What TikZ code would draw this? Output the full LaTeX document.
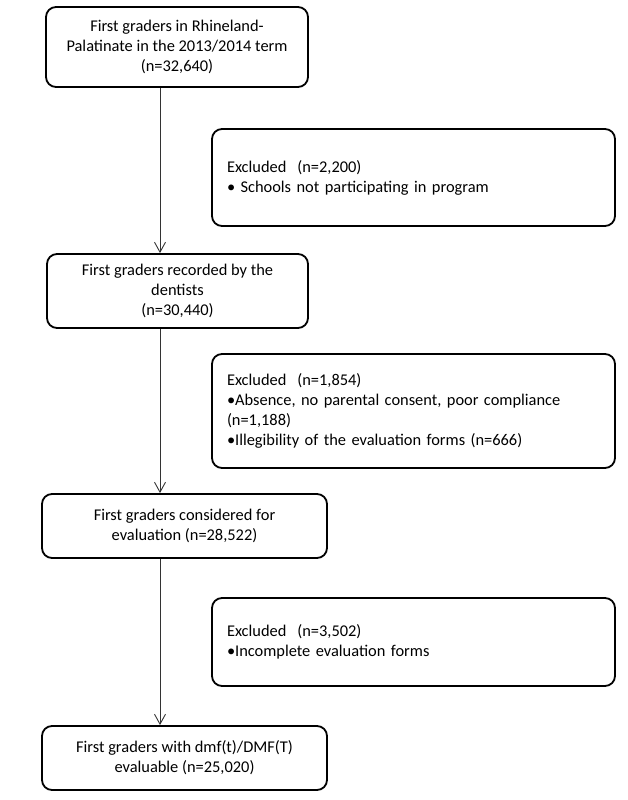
\documentclass[tikz,border=0pt]{standalone}
\usepackage{fontspec}
\setmainfont{Carlito}
\usepackage{tikz}
\usetikzlibrary{arrows.meta}
\usetikzlibrary{positioning}
\tikzset{%
  stage/.style={
    draw,
    rectangle,
    rounded corners=10pt,
    line width=1.8pt,
    align=center,
    inner sep=0pt,
    font=\fontsize{16.4}{20}\selectfont
  },
  excl/.style={
    stage,
    align=left,
    text width=373pt,
    minimum width=403pt,
    execute at begin node=\hspace*{0pt}
  },
  flow/.style={
    draw=black!80,
    line width=0.9pt,
    -{Straight Barb[length=10pt,width=11pt,line width=0.9pt]}
  },
}

\begin{document}
\begin{tikzpicture}[x=1pt,y=-1pt]
    \useasboundingbox (0,0) rectangle (628,800);
    \coordinate (spine) at (160,0);

    \node (a) [xshift=177pt,yshift=-47pt,stage,minimum width=262pt,minimum height=80pt]
    {First graders in Rhineland-\\Palatinate in the 2013/2014 term\\(n=32,640)};
    \node (e1) [xshift=413.5pt,yshift=-177.5pt,excl,minimum height=97pt]
    {Excluded\ \ (n=2,200)\\\textbullet\ Schools not participating in program};
    \node (b) [xshift=177.5pt,yshift=-291pt,stage,minimum width=261pt,minimum height=74pt]
    {First graders recorded by the\\dentists\\(n=30,440)};
    \node (e2) [xshift=413.5pt,yshift=-411pt,excl,minimum height=114pt]
    {Excluded\ \ (n=1,854)\\\textbullet Absence, no parental consent, poor compliance\\(n=1,188)\\\textbullet Illegibility of the evaluation forms (n=666)};
    \node (c) [xshift=184.5pt,yshift=-526pt,stage,minimum width=285pt,minimum height=64pt]
    {First graders considered for\\evaluation (n=28,522)};
    \node (e3) [xshift=413.5pt,yshift=-642pt,excl,minimum height=88pt]
    {Excluded\ \ (n=3,502)\\\textbullet Incomplete evaluation forms};
    \node (d) [xshift=184.5pt,yshift=-758pt,stage,minimum width=285pt,minimum height=64pt]
    {First graders with dmf(t)/DMF(T)\\evaluable (n=25,020)};

    \draw   [flow] (a.south -| spine)--(b.north -| spine);
    \draw   [flow] (b.south -| spine)--(c.north -| spine);
    \draw   [flow] (c.south -| spine)--(d.north -| spine);
\end{tikzpicture}
\end{document}
